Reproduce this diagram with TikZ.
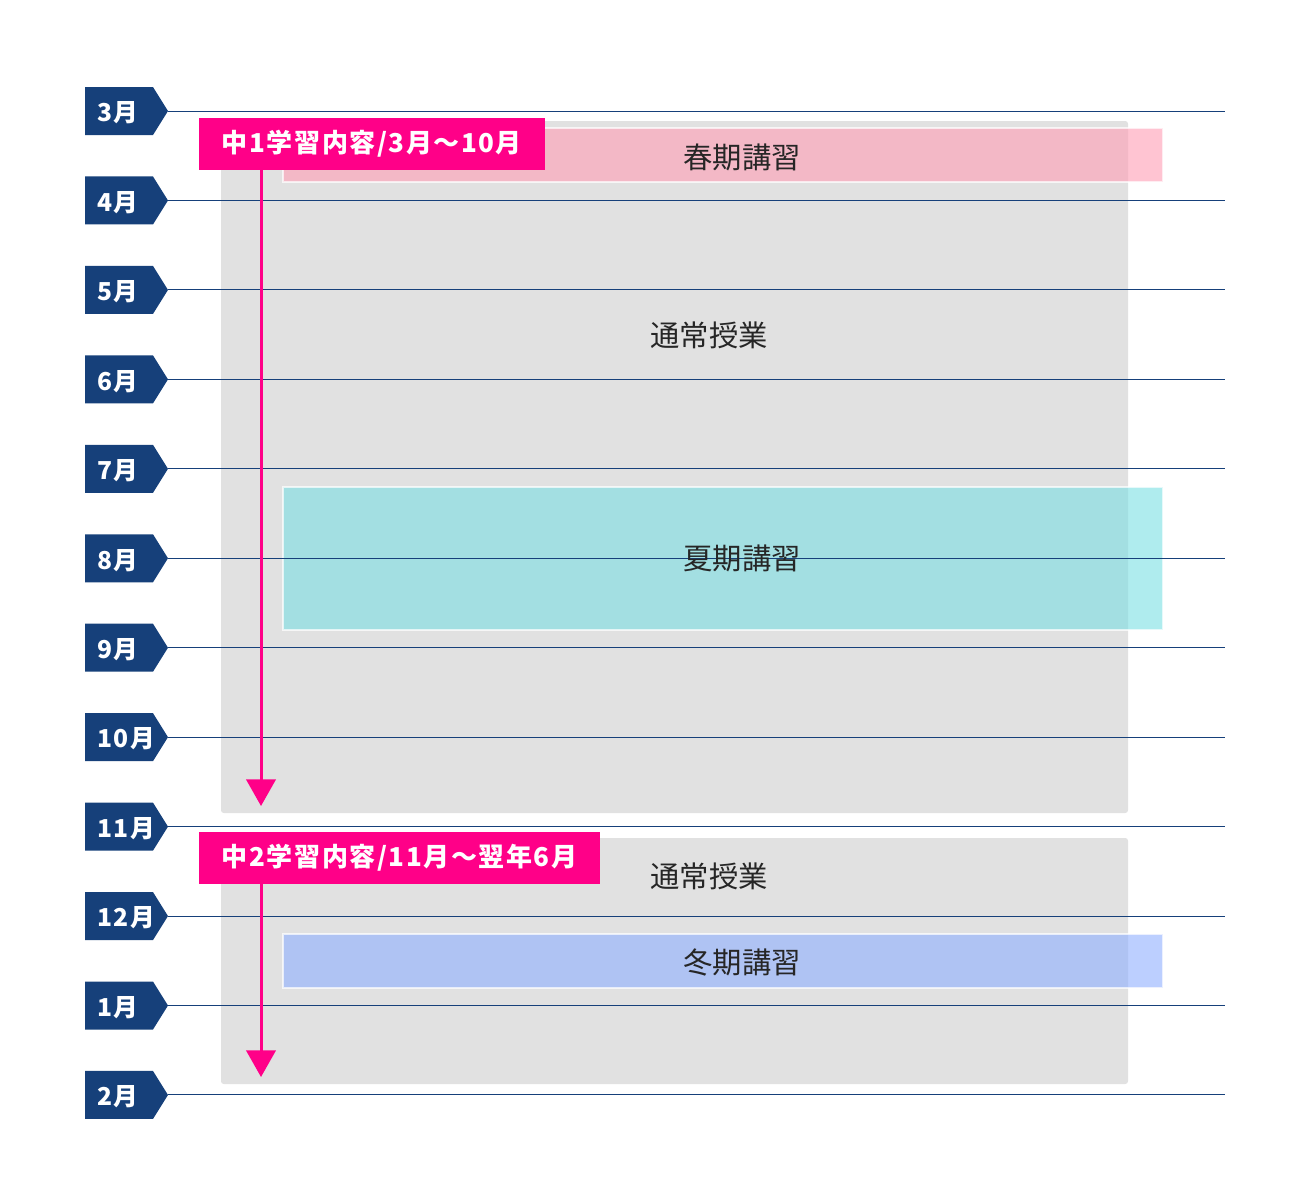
\documentclass[tikz,border=0pt]{standalone}
\usepackage{fontspec}
\setmainfont{Noto Sans CJK JP}
\newfontfamily\tagfont[LetterSpace=6]{Noto Sans CJK JP}
\usepackage{xcolor}
\usetikzlibrary{positioning, arrows.meta}

\definecolor{navy}{RGB}{22,64,122}
\definecolor{hotpink}{RGB}{255,0,136}
\definecolor{panel}{RGB}{225,225,225}
\definecolor{spring}{RGB}{255,157,180}
\definecolor{summer}{RGB}{122,223,227}
\definecolor{winter}{RGB}{143,175,255}

\begin{document}
\begin{tikzpicture}[x=0.75pt, y=-0.75pt,
  monthtag/.style={fill=navy},
  monthtext/.style={anchor=west, text=white, inner sep=0pt, font=\tagfont\fontsize{18.5}{18}\selectfont\bfseries},
  gridline/.style={draw=navy, line width=0.75pt},
  panelbox/.style={fill=panel, rounded corners=2pt},
  course/.style={draw=white, draw opacity=0.7, line width=1.5pt, fill opacity=0.6},
  coursetext/.style={text=black!85, font=\fontsize{22}{22}\selectfont},
  spanlabel/.style={fill=hotpink, text=white, anchor=north west, inner xsep=17pt, minimum height=38.5pt, font=\tagfont\fontsize{19.5}{20}\selectfont\bfseries},
  flow/.style={-{Triangle[width=22pt,length=20pt]}, draw=hotpink, line width=2.25pt}
]
\useasboundingbox (0,0) rectangle (1300,1200);

% Panels
\fill[panelbox] (221,121) rectangle (1128,813);
\fill[panelbox] (221,838) rectangle (1128,1084);

% Courses
\path[course, fill=spring] (283,128) rectangle (1163,182);
\path[course, fill=summer] (283,487) rectangle (1163,630);
\path[course, fill=winter] (283,934) rectangle (1163,988);

% Months
\foreach \m [count=\i from 0] in {3,4,5,6,7,8,9,10,11,12,1,2} {
  \pgfmathsetmacro\yy{111+89.45*\i}
  \fill[monthtag] (85,\yy-24) -- (153,\yy-24) -- (168,\yy) -- (153,\yy+24) -- (85,\yy+24) -- cycle;
  \node[monthtext] (m\i) at (97,\yy+2) {\m{}月};
  \coordinate (tip\i) at (168,\yy);
  \coordinate (end\i) at (1225,\yy);
  \draw[gridline] (tip\i) -- (end\i);
}

% Texts
\node[coursetext] (spring) at (742,157) {春期講習};
\node[coursetext] (regular1) at (709,335) {通常授業};
\node[coursetext] (summer) at (742,558) {夏期講習};
\node[coursetext] (regular2) at (709,876) {通常授業};
\node[coursetext] (winter) at (742,962) {冬期講習};

% Spans
\node[spanlabel] (grade1) at (199,118) {中1学習内容/3月～10月};
\node[spanlabel] (grade2) at (199,832) {中2学習内容/11月～翌年6月};
\coordinate (stop1) at (261,806);
\coordinate (stop2) at (261,1077);
\draw[flow] (grade1.south -| stop1) -- (stop1);
\draw[flow] (grade2.south -| stop2) -- (stop2);

\end{tikzpicture}
\end{document}
